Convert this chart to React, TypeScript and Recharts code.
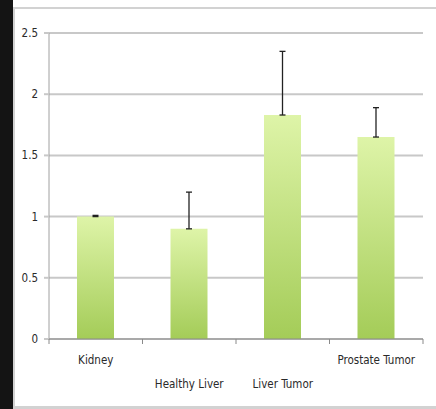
import React from "react";
import { BarChart, Bar, XAxis, YAxis, CartesianGrid, ErrorBar } from "recharts";

const categories = ["Kidney", "Healthy Liver", "Liver Tumor", "Prostate Tumor"];
const values = [1.0, 0.9, 1.83, 1.65];
const upperErrors = [0.01, 0.3, 0.52, 0.24];
const yTicks = [0, 0.5, 1, 1.5, 2, 2.5];
const labelRow = [0, 1, 1, 0];

const data = categories.map((name, i) => ({
  name,
  value: values[i],
  err: [0, upperErrors[i]],
}));

const FONT = "'DejaVu Sans Condensed', 'Liberation Sans Narrow', sans-serif";

const XTick = (props: any) => {
  const { x, y, payload, index } = props;
  const half = payload && payload.offset ? payload.offset : 46.75;
  const row = labelRow[index] || 0;
  return (
    <g>
      <line x1={x - half} y1={y - 8} x2={x - half} y2={y - 3} stroke="#8a8a8a" strokeWidth={1} />
      {index === categories.length - 1 && (
        <line x1={x + half} y1={y - 8} x2={x + half} y2={y - 3} stroke="#8a8a8a" strokeWidth={1} />
      )}
      <text
        x={x}
        y={y + 17 + row * 24}
        textAnchor="middle"
        fontFamily={FONT}
        fontSize={11.5}
        fill="#2a2a2a"
      >
        {payload.value}
      </text>
    </g>
  );
};

export default function App() {
  return (
    <div
      style={{
        position: "absolute",
        left: 0,
        top: 0,
        width: 436,
        height: 409,
        background: "#fff",
        overflow: "hidden",
      }}
    >
      <div style={{ position: "absolute", left: 0, top: 0, width: 13, height: 409, background: "#141414" }} />
      <div
        style={{
          position: "absolute",
          left: 13,
          top: 7,
          width: 440,
          height: 397,
          borderTop: "2px solid #d2d2d2",
          borderLeft: "2px solid #d2d2d2",
          borderBottom: "3px solid #d2d2d2",
        }}
      />
      <div style={{ position: "absolute", left: 0, top: 0 }}>
        <BarChart
          width={436}
          height={409}
          data={data}
          margin={{ top: 33, right: 13, bottom: 10, left: 9 }}
        >
          <defs>
            <linearGradient id="barGrad" x1="0" y1="0" x2="0" y2="1">
              <stop offset="0%" stopColor="#def4a8" />
              <stop offset="100%" stopColor="#a4cc58" />
            </linearGradient>
          </defs>
          <CartesianGrid vertical={false} stroke="#c8c8c8" strokeWidth={2} />
          <XAxis
            dataKey="name"
            height={60}
            axisLine={{ stroke: "#8a8a8a", strokeWidth: 1 }}
            tickLine={false}
            tick={<XTick />}
            interval={0}
          />
          <YAxis
            width={40}
            domain={[0, 2.5]}
            ticks={yTicks}
            axisLine={{ stroke: "#a0a0a0", strokeWidth: 1 }}
            tickLine={{ stroke: "#c8c8c8", strokeWidth: 2 }}
            tickSize={5}
            tickMargin={6}
            tick={{ fontFamily: FONT, fontSize: 11.5, fill: "#2a2a2a" }}
          />
          <Bar dataKey="value" fill="url(#barGrad)" barSize={37} isAnimationActive={false}>
            <ErrorBar dataKey="err" width={3} stroke="#222" strokeWidth={1.3} direction="y" />
          </Bar>
        </BarChart>
      </div>
    </div>
  );
}
